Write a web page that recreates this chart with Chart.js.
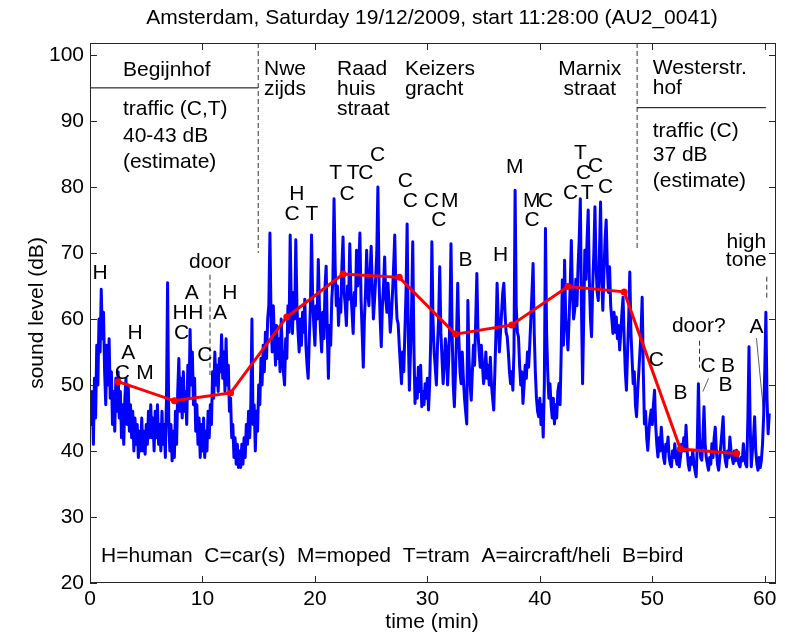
<!DOCTYPE html>
<html>
<head>
<meta charset="utf-8">
<script src="https://cdn.jsdelivr.net/npm/chart.js@4.4.1/dist/chart.umd.min.js"></script>
<style>
	html, body { margin: 0; padding: 0; background: #ffffff; }
	canvas { display: block; }
</style>
</head>
<body>
<canvas id="sound_chart" width="785" height="636"></canvas>
<script>
/**
 * Sound level walk through Amsterdam, drawn with Chart.js
 */

const chart_title = "Amsterdam, Saturday 19/12/2009, start 11:28:00 (AU2_0041)"
const x_title = "time (min)"
const y_title = "sound level (dB)"
const x_ticks = [0, 10, 20, 30, 40, 50, 60]
const y_ticks = [20, 30, 40, 50, 60, 70, 80, 90, 100]

// measured level, [time (min), dB]
const level_trace = [
	[0.0, 48], [0.1, 44], [0.2, 49], [0.3, 41], [0.4, 51], [0.5, 45], [0.6, 56], [0.7, 50], [0.8, 60], [0.9, 55],
	[1.0, 64.5], [1.1, 57], [1.2, 61], [1.3, 52], [1.4, 47], [1.5, 56], [1.6, 50], [1.7, 57], [1.8, 48], [1.9, 52],
	[2.0, 44], [2.1, 49], [2.2, 43], [2.3, 51], [2.4, 46], [2.5, 52], [2.6, 45], [2.7, 49], [2.8, 42], [2.9, 47],
	[3.0, 41], [3.1, 48], [3.2, 51], [3.3, 44], [3.4, 50], [3.5, 43], [3.6, 47], [3.7, 42], [3.8, 46], [3.9, 40],
	[4.0, 45], [4.1, 41], [4.2, 44], [4.3, 39], [4.4, 43], [4.5, 40], [4.6, 45], [4.7, 40], [4.8, 43], [4.9, 39.5],
	[5.0, 44], [5.1, 41], [5.2, 46], [5.3, 42], [5.4, 47], [5.5, 42], [5.6, 45], [5.7, 40], [5.8, 46], [5.9, 42],
	[6.0, 47], [6.1, 41], [6.2, 44], [6.3, 40], [6.4, 46], [6.5, 41], [6.6, 44], [6.7, 39], [6.8, 48], [6.9, 65.5],
	[7.0, 45], [7.1, 40], [7.2, 44], [7.3, 38.5], [7.4, 43], [7.5, 39], [7.6, 46], [7.7, 41], [7.8, 49], [7.9, 54],
	[8.0, 46], [8.1, 51], [8.2, 45], [8.3, 52], [8.4, 46], [8.5, 49], [8.6, 44], [8.7, 53], [8.8, 48], [8.9, 58.4],
	[9.0, 50], [9.1, 55], [9.2, 47], [9.3, 51], [9.4, 43], [9.5, 47], [9.6, 41], [9.7, 45], [9.8, 39], [9.9, 44],
	[10.0, 40], [10.1, 45], [10.2, 39], [10.3, 43], [10.4, 40], [10.5, 46], [10.6, 42], [10.7, 47], [10.8, 44], [10.9, 52],
	[11.0, 48], [11.1, 55], [11.2, 50], [11.3, 53], [11.4, 49], [11.5, 54], [11.6, 52], [11.7, 57.6], [11.8, 51], [11.9, 55],
	[12.0, 49], [12.1, 57], [12.2, 50], [12.3, 53], [12.4, 46], [12.5, 48], [12.6, 42], [12.7, 44], [12.8, 39], [12.9, 42],
	[13.0, 38], [13.1, 41], [13.2, 37.5], [13.3, 40], [13.4, 37.5], [13.5, 41], [13.6, 38], [13.7, 42], [13.8, 39], [13.9, 44],
	[14.0, 41], [14.1, 46], [14.2, 42], [14.3, 47], [14.4, 60], [14.5, 44], [14.6, 47], [14.7, 40], [14.8, 46], [14.9, 43],
	[15.0, 50], [15.1, 47], [15.2, 54], [15.3, 50], [15.4, 56], [15.5, 52], [15.6, 58], [15.7, 54], [15.8, 60], [15.9, 62],
	[16.0, 73], [16.1, 60], [16.2, 55], [16.3, 62], [16.4, 57], [16.5, 53], [16.6, 59], [16.7, 54], [16.8, 57], [16.9, 52],
	[17.0, 60], [17.1, 55], [17.2, 52], [17.3, 50], [17.4, 57], [17.5, 54], [17.6, 62], [17.7, 58], [17.8, 72.7], [17.9, 62],
	[18.0, 57.8], [18.1, 64], [18.2, 60], [18.3, 72], [18.4, 62], [18.5, 58], [18.6, 55], [18.7, 60], [18.8, 56], [18.9, 61],
	[19.0, 58], [19.1, 63], [19.2, 56], [19.3, 53], [19.4, 51], [19.5, 57], [19.6, 62], [19.7, 72.7], [19.8, 63], [19.9, 59],
	[20.0, 56], [20.1, 62], [20.2, 60], [20.3, 69], [20.4, 62], [20.5, 58], [20.6, 55], [20.7, 61], [20.8, 57], [20.9, 65],
	[21.0, 68], [21.1, 58], [21.2, 51], [21.3, 59], [21.4, 56], [21.5, 63], [21.6, 66], [21.7, 78.2], [21.8, 68], [21.9, 62],
	[22.0, 65], [22.1, 59], [22.2, 63], [22.3, 61], [22.4, 68], [22.5, 72.4], [22.6, 64], [22.7, 62], [22.8, 59], [22.9, 65],
	[23.0, 63], [23.1, 71.4], [23.2, 64], [23.3, 61], [23.4, 57.8], [23.5, 64], [23.6, 62], [23.7, 70.4], [23.8, 65], [23.9, 68],
	[24.0, 73], [24.1, 63], [24.2, 58], [24.3, 52.7], [24.4, 60], [24.5, 64], [24.6, 70.4], [24.7, 64], [24.8, 62], [24.9, 67],
	[25.0, 71], [25.1, 65], [25.2, 60], [25.3, 62.8], [25.4, 66], [25.5, 70], [25.6, 80], [25.7, 66], [25.8, 60], [25.9, 55.8],
	[26.0, 62], [26.1, 65], [26.2, 69.4], [26.3, 63], [26.4, 61], [26.5, 65.4], [26.6, 62], [26.7, 58], [26.8, 60.3], [26.9, 64],
	[27.0, 68], [27.1, 72.7], [27.2, 64], [27.3, 60], [27.4, 59.3], [27.5, 56], [27.6, 53], [27.7, 50.2], [27.8, 55], [27.9, 52],
	[28.0, 58], [28.1, 64], [28.2, 74.4], [28.3, 58], [28.4, 49.2], [28.5, 55], [28.6, 62], [28.7, 71.7], [28.8, 56], [28.9, 47.2],
	[29.0, 51], [29.1, 48], [29.2, 52.7], [29.3, 49], [29.4, 53], [29.5, 46.7], [29.6, 49], [29.7, 47], [29.8, 50.2], [29.9, 48],
	[30.0, 51], [30.1, 46.2], [30.2, 50], [30.3, 57], [30.4, 71.7], [30.5, 60], [30.6, 55], [30.7, 52.7], [30.8, 50], [30.9, 56],
	[31.0, 60], [31.1, 67.9], [31.2, 58], [31.3, 54], [31.4, 50.2], [31.5, 53], [31.6, 57], [31.7, 55.3], [31.8, 50], [31.9, 54],
	[32.0, 60], [32.1, 71.4], [32.2, 58], [32.3, 50], [32.4, 46.7], [32.5, 52], [32.6, 58], [32.7, 65.4], [32.8, 57], [32.9, 52],
	[33.0, 50.2], [33.1, 55], [33.2, 51], [33.3, 48], [33.4, 46], [33.5, 44.1], [33.6, 62.8], [33.7, 54], [33.8, 50], [33.9, 47.7],
	[34.0, 52], [34.1, 56], [34.2, 53], [34.3, 60], [34.4, 66.9], [34.5, 58], [34.6, 55], [34.7, 52.7], [34.8, 56], [34.9, 53],
	[35.0, 50.2], [35.1, 52], [35.2, 55], [35.3, 51], [35.4, 53], [35.5, 50], [35.6, 54.2], [35.7, 50], [35.8, 48], [35.9, 46.2],
	[36.0, 52], [36.1, 58], [36.2, 65.4], [36.3, 60], [36.4, 55], [36.5, 57.8], [36.6, 61], [36.7, 64], [36.8, 65.4], [36.9, 61],
	[37.0, 58], [37.1, 57.3], [37.2, 55], [37.3, 52], [37.4, 50.2], [37.5, 52], [37.6, 49.2], [37.7, 55], [37.8, 79.5], [37.9, 62],
	[38.0, 58], [38.1, 57.3], [38.2, 53], [38.3, 50], [38.4, 52], [38.5, 47.2], [38.6, 50], [38.7, 53], [38.8, 51], [38.9, 55],
	[39.0, 52.7], [39.1, 56], [39.2, 60], [39.3, 64], [39.4, 68.4], [39.5, 58], [39.6, 52], [39.7, 48], [39.8, 46], [39.9, 45.2],
	[40.0, 48], [40.1, 44], [40.2, 47], [40.3, 42.1], [40.4, 50], [40.5, 73.7], [40.6, 58], [40.7, 52], [40.8, 48], [40.9, 50.2],
	[41.0, 47], [41.1, 45], [41.2, 48], [41.3, 44.1], [41.4, 47], [41.5, 45], [41.6, 49], [41.7, 50.2], [41.8, 47], [41.9, 55],
	[42.0, 65.9], [42.1, 56], [42.2, 68.9], [42.3, 60], [42.4, 58], [42.5, 55.3], [42.6, 60], [42.7, 65], [42.8, 71.9], [42.9, 64],
	[43.0, 60], [43.1, 61.3], [43.2, 66], [43.3, 62], [43.4, 68], [43.5, 72], [43.6, 78.2], [43.7, 62], [43.8, 50.2], [43.9, 60],
	[44.0, 70.4], [44.1, 66], [44.2, 72], [44.3, 76.5], [44.4, 66], [44.5, 60], [44.6, 57.3], [44.7, 65], [44.8, 70], [44.9, 77],
	[45.0, 68], [45.1, 64], [45.2, 62.8], [45.3, 70], [45.4, 77.7], [45.5, 66], [45.6, 61.3], [45.7, 67], [45.8, 72], [45.9, 75],
	[46.0, 68], [46.1, 64], [46.2, 67.9], [46.3, 62], [46.4, 60], [46.5, 57.8], [46.6, 61], [46.7, 58], [46.8, 60.3], [46.9, 57],
	[47.0, 59], [47.1, 55.3], [47.2, 58], [47.3, 61], [47.4, 63.3], [47.5, 57], [47.6, 52], [47.7, 49.2], [47.8, 55], [47.9, 60],
	[48.0, 67.1], [48.1, 58], [48.2, 54], [48.3, 50.2], [48.4, 52], [48.5, 47], [48.6, 45.2], [48.7, 49], [48.8, 52], [48.9, 55],
	[49.0, 58], [49.1, 63.3], [49.2, 52], [49.3, 44.1], [49.4, 46], [49.5, 42], [49.6, 40.1], [49.7, 43], [49.8, 45], [49.9, 46.2],
	[50.0, 44], [50.1, 47], [50.2, 49.2], [50.3, 44], [50.4, 41], [50.5, 39.1], [50.6, 42], [50.7, 40], [50.8, 43.6], [50.9, 41],
	[51.0, 39], [51.1, 38.1], [51.2, 41], [51.3, 40], [51.4, 42.1], [51.5, 39], [51.6, 38], [51.7, 37.6], [51.8, 40], [51.9, 39],
	[52.0, 41.1], [52.1, 39], [52.2, 38], [52.3, 40], [52.4, 37.6], [52.5, 39], [52.6, 41], [52.7, 40], [52.8, 42], [52.9, 40],
	[53.0, 43.9], [53.1, 40], [53.2, 38], [53.3, 37.1], [53.4, 39], [53.5, 38], [53.6, 40.1], [53.7, 38], [53.8, 37], [53.9, 36.1],
	[54.0, 41], [54.1, 50.2], [54.2, 42], [54.3, 39], [54.4, 38.6], [54.5, 42], [54.6, 46.7], [54.7, 41], [54.8, 39], [54.9, 38],
	[55.0, 37.1], [55.1, 39], [55.2, 38], [55.3, 41.1], [55.4, 39], [55.5, 42], [55.6, 43.6], [55.7, 40], [55.8, 38], [55.9, 37.1],
	[56.0, 39], [56.1, 41], [56.2, 43], [56.3, 45.2], [56.4, 40], [56.5, 38.5], [56.6, 37.6], [56.7, 40], [56.8, 39], [56.9, 42.1],
	[57.0, 40], [57.1, 39], [57.2, 38.1], [57.3, 40], [57.4, 38.5], [57.5, 40.1], [57.6, 39], [57.7, 38], [57.8, 37.6], [57.9, 39],
	[58.0, 38.5], [58.1, 41.1], [58.2, 39], [58.3, 38], [58.4, 37.6], [58.5, 45], [58.6, 55.8], [58.7, 44], [58.8, 37.6], [58.9, 40],
	[59.0, 42], [59.1, 45.2], [59.2, 40], [59.3, 38], [59.4, 37.1], [59.5, 39], [59.6, 37.5], [59.7, 38.6], [59.8, 41], [59.9, 45.2],
	[60.0, 52], [60.1, 61], [60.2, 48], [60.3, 42.6], [60.4, 45.7]
]

// 5-minute averages (red)
const average_times = [2.5, 7.5, 12.5, 17.5, 22.5, 27.5, 32.5, 37.5, 42.5, 47.5, 52.5, 57.5]
const average_levels = [50.5, 47.6, 48.8, 60.3, 66.8, 66.3, 57.7, 59.1, 64.9, 64.1, 40.3, 39.6]

// solid separators under the quiet-area names, [[t0, dB], [t1, dB]]
const solid_lines = [
	[[0, 95], [14.96, 95]],
	[[48.65, 92], [60.1, 92]]
]
const dashed_lines = [
	[[14.96, 101.8], [14.96, 70]],
	[[48.65, 101.8], [48.65, 70.5]],
	[[10.67, 66.7], [10.67, 51.5]],
	[[54.2, 56.7], [54.2, 52.6]],
	[[60.18, 66.4], [60.18, 63]]
]
const leader_lines = [
	[[55.0, 51.0], [54.5, 49.0]],
	[[59.26, 57.1], [59.91, 45.7]]
]

// place names and notes, [text, t, dB] (left edge of text)
const place_labels = [
	["Begijnhof", 2.93, 97.7],
	["traffic (C,T)", 2.93, 91.7],
	["40-43 dB", 2.93, 87.7],
	["(estimate)", 2.93, 83.8],
	["Nwe", 15.47, 97.9],
	["zijds", 15.47, 94.8],
	["Raad", 21.96, 97.9],
	["huis", 21.96, 94.8],
	["straat", 21.96, 91.8],
	["Keizers", 28.0, 97.9],
	["gracht", 28.0, 94.8],
	["Westerstr.", 50.04, 98.0],
	["hof", 50.04, 95.0],
	["traffic (C)", 50.04, 88.5],
	["37 dB", 50.04, 84.8],
	["(estimate)", 50.04, 80.8],
	["H=human  C=car(s)  M=moped  T=tram  A=aircraft/heli  B=bird", 0.98, 24.1]
]

// centred notes, [text, t, dB]
const centred_labels = [
	["Marnix", 44.44, 97.9],
	["straat", 44.44, 94.8],
	["door", 10.67, 68.6],
	["door?", 54.13, 58.9],
	["high", 58.36, 71.7],
	["tone", 58.36, 68.9]
]

// source letters, [letter, t, dB]
const source_letters = [
	["H", 0.89, 66.9], ["H", 4.0, 57.9], ["A", 3.4, 54.8], ["C", 2.87, 51.8], ["M", 4.89, 51.8],
	["A", 9.04, 63.9], ["H", 8.0, 60.9], ["H", 9.4, 60.9], ["C", 8.15, 57.8], ["C", 10.22, 54.5],
	["A", 11.56, 60.9], ["H", 12.44, 63.9],
	["H", 18.4, 78.9], ["C", 17.96, 75.9], ["T", 19.73, 75.9],
	["T", 21.84, 82.1], ["T", 23.4, 82.1], ["C", 24.53, 82.1], ["C", 25.57, 84.8], ["C", 22.87, 78.9],
	["C", 28.04, 80.9], ["C", 28.49, 77.9], ["C", 30.36, 77.9], ["M", 32.0, 77.9], ["C", 31.02, 74.9],
	["B", 33.4, 68.9], ["H", 36.5, 69.7], ["M", 37.78, 83.0], ["M", 39.29, 77.9], ["C", 40.5, 77.9], ["C", 39.3, 74.9],
	["T", 43.6, 85.1], ["C", 43.9, 82.1], ["C", 44.95, 83.1], ["C", 42.73, 79.0], ["T", 44.2, 79.0], ["C", 45.84, 80.0],
	["C", 50.37, 53.8], ["B", 52.5, 48.7], ["C", 54.96, 52.8], ["B", 56.74, 52.8], ["B", 56.5, 50.0], ["A", 59.26, 58.8]
]

const font_family = "'Liberation Sans', Arial, Helvetica, sans-serif"
const font_size = 21

function to_points(pairs) {
	return pairs.map(p => ({ x: p[0], y: p[1] }))
}

function draw_text(ctx, text, x, y, align) {
	ctx.textAlign = align
	ctx.textBaseline = "middle"
	ctx.fillText(text, x, y)
}

/**
 * Axes box, inward ticks and all text, MATLAB style
 */
const frame_plugin = {
	id: "frame",
	afterDatasetsDraw(chart) {
		const { ctx, chartArea: area, scales } = chart
		const x = scales.x
		const y = scales.y

		ctx.save()
		ctx.fillStyle = "#000000"
		ctx.font = `${font_size}px ${font_family}`

		place_labels.forEach(([text, t, v]) => {
			draw_text(ctx, text, x.getPixelForValue(t), y.getPixelForValue(v), "left")
		})
		centred_labels.concat(source_letters).forEach(([text, t, v]) => {
			draw_text(ctx, text, x.getPixelForValue(t), y.getPixelForValue(v), "center")
		})

		// box
		ctx.strokeStyle = "#262626"
		ctx.lineWidth = 1
		ctx.strokeRect(area.left + 0.5, area.top + 0.5, area.right - area.left - 1, area.bottom - area.top - 1)

		// inward ticks on all four sides
		ctx.beginPath()
		x_ticks.forEach(t => {
			const px = Math.round(x.getPixelForValue(t)) + 0.5
			ctx.moveTo(px, area.bottom)
			ctx.lineTo(px, area.bottom - 7)
			ctx.moveTo(px, area.top)
			ctx.lineTo(px, area.top + 7)
		})
		y_ticks.forEach(v => {
			const py = Math.round(y.getPixelForValue(v)) + 0.5
			ctx.moveTo(area.left, py)
			ctx.lineTo(area.left + 7, py)
			ctx.moveTo(area.right, py)
			ctx.lineTo(area.right - 7, py)
		})
		ctx.stroke()

		// tick labels
		x_ticks.forEach(t => {
			draw_text(ctx, String(t), x.getPixelForValue(t), 599, "center")
		})
		y_ticks.forEach(v => {
			draw_text(ctx, String(v), area.left - 6, y.getPixelForValue(v), "right")
		})

		// titles
		draw_text(ctx, chart_title, 432, 18, "center")
		draw_text(ctx, x_title, 432, 622, "center")
		ctx.translate(37, (area.top + area.bottom) / 2)
		ctx.rotate(-Math.PI / 2)
		draw_text(ctx, y_title, 0, 0, "center")

		ctx.restore()
	}
}

const line_sets = []

solid_lines.forEach(seg => {
	line_sets.push({
		data: to_points(seg),
		borderColor: "#000000",
		borderWidth: 1,
		pointRadius: 0,
		order: 3
	})
})

dashed_lines.forEach(seg => {
	line_sets.push({
		data: to_points(seg),
		borderColor: "#333333",
		borderWidth: 1,
		borderDash: [5, 3],
		pointRadius: 0,
		order: 3
	})
})

leader_lines.forEach(seg => {
	line_sets.push({
		data: to_points(seg),
		borderColor: "#333333",
		borderWidth: 0.8,
		pointRadius: 0,
		order: 3
	})
})

const ctx = document.getElementById("sound_chart")

new Chart(ctx, {
	type: "line",
	data: {
		datasets: [
			{
				data: average_times.map((t, i) => ({ x: t, y: average_levels[i] })),
				borderColor: "#ff0000",
				backgroundColor: "#ff0000",
				borderWidth: 3,
				pointRadius: 3.5,
				pointBorderWidth: 0,
				pointBackgroundColor: "#ff0000",
				tension: 0,
				order: 0
			},
			{
				data: to_points(level_trace),
				borderColor: "#0000ff",
				borderWidth: 3,
				borderJoinStyle: "round",
				pointRadius: 0,
				tension: 0,
				order: 1
			},
			...line_sets
		]
	},
	options: {
		responsive: false,
		animation: false,
		layout: {
			padding: { left: 90, right: 9, top: 43, bottom: 53 }
		},
		plugins: {
			legend: { display: false },
			tooltip: { enabled: false },
			title: { display: false }
		},
		scales: {
			x: { type: "linear", min: 0, max: 61, display: false },
			y: { type: "linear", min: 20, max: 101.8, display: false }
		}
	},
	plugins: [frame_plugin]
})
</script>
</body>
</html>
